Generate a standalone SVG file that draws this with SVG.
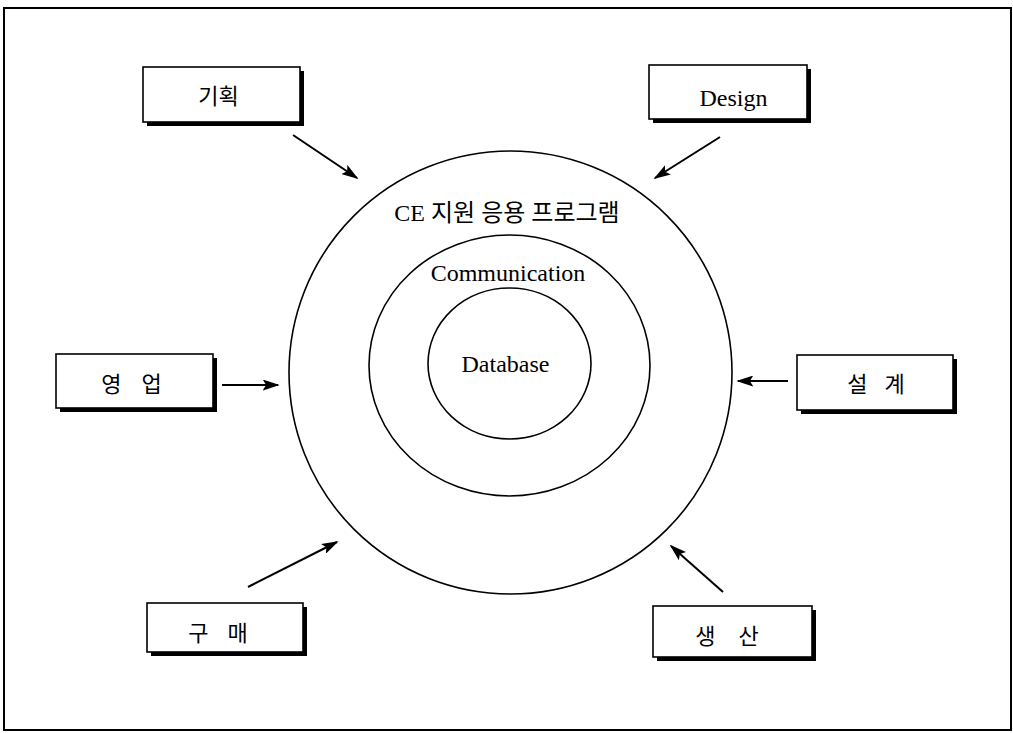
<svg xmlns="http://www.w3.org/2000/svg" width="1013" height="733" viewBox="0 0 1013 733">
<style>
.frame{fill:none;stroke:#000;stroke-width:2}
.ring{fill:none;stroke:#000;stroke-width:1.6}
.shadow{fill:#000}
.box{fill:#fff;stroke:#000;stroke-width:1.6}
.en{font-family:"Liberation Serif","Times New Roman",serif;font-size:24px;fill:#000}
.ko{font-family:"Noto Sans CJK KR","Noto Sans",sans-serif;font-size:22px;font-weight:normal;fill:#000}
.mix{font-family:"Liberation Serif","Noto Sans CJK KR",serif;font-size:24px;fill:#000}
.conn{stroke:#000;stroke-width:2;fill:none;marker-end:url(#ah)}
</style>
<defs>
<marker id="ah" viewBox="0 0 10 10" refX="9" refY="5" markerWidth="17" markerHeight="11" markerUnits="userSpaceOnUse" orient="auto" preserveAspectRatio="none">
<path d="M0,0 L10,5 L0,10 L2,5 Z" fill="#000"/>
</marker>
</defs>
<rect width="1013" height="733" fill="#fff"/>
<rect class="frame" x="4" y="8" width="1007" height="722"/>

<g id="rings">
<circle class="ring" cx="510.5" cy="372.5" r="221.5"/>
<ellipse class="ring" cx="509.5" cy="365.5" rx="140.5" ry="130.5"/>
<ellipse class="ring" cx="509.5" cy="363.5" rx="81.5" ry="75.5"/>
<text class="mix" x="507" y="221" text-anchor="middle">CE 지원 응용 프로그램</text>
<text class="en" x="508" y="281" text-anchor="middle">Communication</text>
<text class="en" x="505.5" y="372" text-anchor="middle">Database</text>
</g>

<g id="node-plan">
<rect class="shadow" x="147" y="71" width="157" height="55"/>
<rect class="box" x="143" y="67" width="157" height="55"/>
<text class="ko" x="218.5" y="104" text-anchor="middle">기획</text>
</g>
<g id="node-design">
<rect class="shadow" x="653" y="69" width="158" height="54"/>
<rect class="box" x="649" y="65" width="158" height="54"/>
<text class="en" x="733.5" y="106" text-anchor="middle">Design</text>
</g>
<g id="node-sales">
<rect class="shadow" x="60" y="358" width="157" height="54"/>
<rect class="box" x="56" y="354" width="157" height="54"/>
<text class="ko" x="131.5" y="392" text-anchor="middle" word-spacing="15">영 업</text>
</g>
<g id="node-eng">
<rect class="shadow" x="801" y="359" width="156" height="55"/>
<rect class="box" x="797" y="355" width="156" height="55"/>
<text class="ko" x="876" y="392" text-anchor="middle" word-spacing="12">설 계</text>
</g>
<g id="node-purchase">
<rect class="shadow" x="151" y="607" width="156" height="49"/>
<rect class="box" x="147" y="603" width="156" height="49"/>
<text class="ko" x="218" y="641" text-anchor="middle" word-spacing="14">구 매</text>
</g>
<g id="node-production">
<rect class="shadow" x="657" y="610" width="159" height="51"/>
<rect class="box" x="653" y="606" width="159" height="51"/>
<text class="ko" x="727" y="644" text-anchor="middle" word-spacing="18">생 산</text>
</g>

<g id="connectors">
<line class="conn" x1="293" y1="135" x2="357" y2="178"/>
<line class="conn" x1="720" y1="137" x2="655" y2="178"/>
<line class="conn" x1="222" y1="385" x2="278" y2="385"/>
<line class="conn" x1="788" y1="381" x2="738" y2="381"/>
<line class="conn" x1="248" y1="587" x2="337" y2="542"/>
<line class="conn" x1="723" y1="592" x2="671" y2="546"/>
</g>
</svg>
